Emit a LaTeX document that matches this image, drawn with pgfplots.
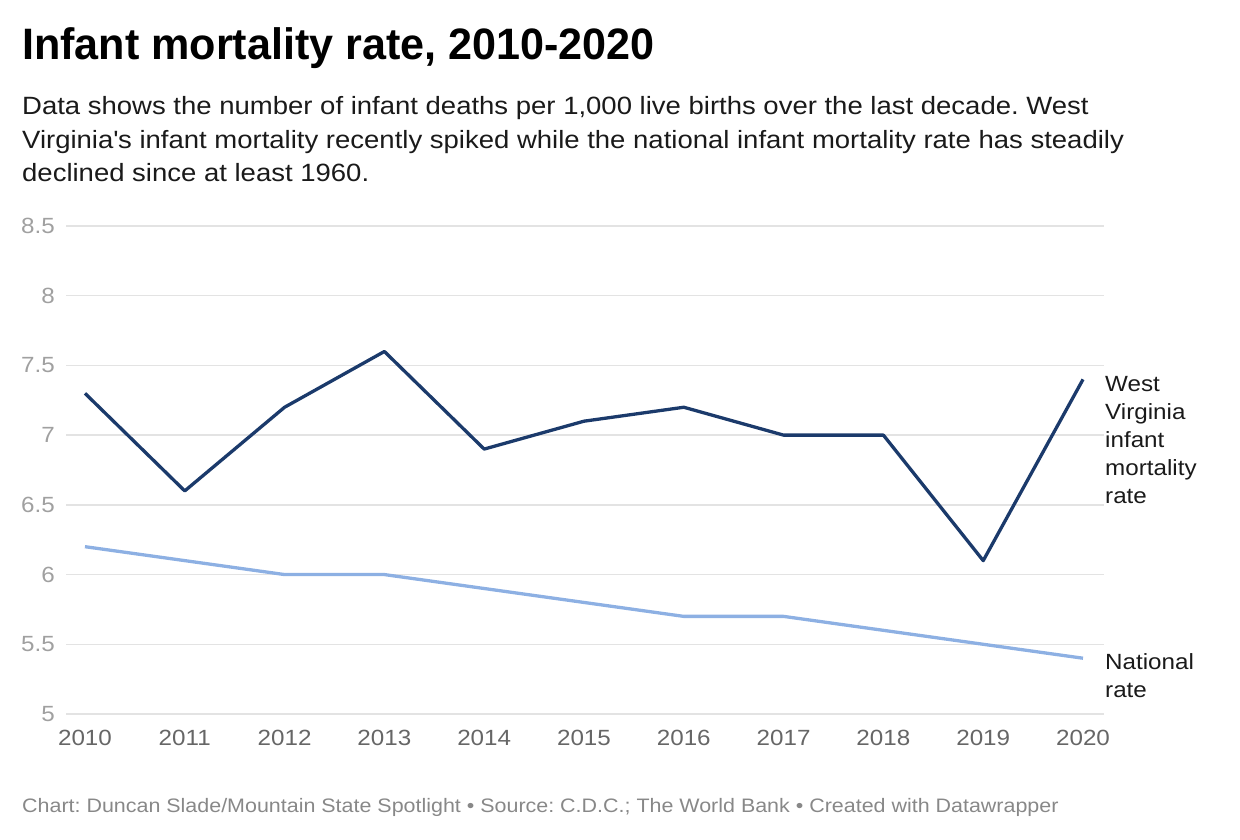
\documentclass[border=0pt]{standalone}
\usepackage{pgfplots}
\pgfplotsset{compat=1.18}
\usepackage{fontspec}
\setmainfont[FakeStretch=1.1]{Liberation Sans}
\newfontfamily\titlefont[FakeStretch=0.98]{Liberation Sans}

\definecolor{wvline}{HTML}{1B3A6B}
\definecolor{natline}{HTML}{8DB0E3}
\definecolor{gridc}{HTML}{E3E3E3}
\definecolor{ylab}{HTML}{A0A0A0}
\definecolor{xlab}{HTML}{666666}
\definecolor{foot}{HTML}{888888}
\definecolor{bodytxt}{HTML}{1A1A1A}

\begin{document}
\frenchspacing
\begin{tikzpicture}[x=1pt,y=1pt]
\useasboundingbox (0,0) rectangle (1240,840);

% title and description
\node[anchor=base west, inner sep=0pt] at (22,780)
  {\titlefont\fontsize{44}{50}\selectfont\bfseries Infant mortality rate, 2010-2020};
\begin{scope}[every node/.style={anchor=base west, inner sep=0pt, text=bodytxt, font=\fontsize{25}{30}\selectfont}]
\node at (22,725) {Data shows the number of infant deaths per 1,000 live births over the last decade. West};
\node at (22,691.5) {Virginia\textquotesingle s infant mortality recently spiked while the national infant mortality rate has steadily};
\node at (22,658) {declined since at least 1960.};
\end{scope}

\begin{axis}[
  at={(66pt,126pt)}, anchor=south west,
  scale only axis,
  width=1038pt, height=488pt,
  xmin=2009.81, xmax=2020.21,
  ymin=5, ymax=8.5,
  xtick={2010,2011,...,2020},
  ytick={5,5.5,...,8.5},
  axis line style={draw=none},
  tick style={draw=none},
  major tick length=0pt,
  ymajorgrids,
  grid style={color=gridc, line width=1.5pt},
  /pgf/number format/assume math mode=true,
  x tick label style={/pgf/number format/1000 sep={}, font=\fontsize{22}{26}\selectfont,
    text=xlab, inner sep=0pt, anchor=north, yshift=-16pt},
  y tick label style={font=\fontsize{22}{26}\selectfont, text=ylab, inner sep=0pt,
    anchor=east, xshift=-11pt},
  clip=false,
]
\addplot[natline, line width=3.3pt, line join=round] coordinates {
  (2010,6.2) (2011,6.1) (2012,6.0) (2013,6.0) (2014,5.9) (2015,5.8)
  (2016,5.7) (2017,5.7) (2018,5.6) (2019,5.5) (2020,5.4)};
\addplot[wvline, line width=3.3pt, line join=round] coordinates {
  (2010,7.3) (2011,6.6) (2012,7.2) (2013,7.6) (2014,6.9) (2015,7.1)
  (2016,7.2) (2017,7.0) (2018,7.0) (2019,6.1) (2020,7.4)};
\end{axis}

% line labels
\begin{scope}[every node/.style={anchor=base west, inner sep=0pt, text=bodytxt, font=\fontsize{22}{26}\selectfont}]
\node at (1105,448) {West};
\node at (1105,420) {Virginia};
\node at (1105,392) {infant};
\node at (1105,364) {mortality};
\node at (1105,336) {rate};
\node at (1105,170) {National};
\node at (1105,142) {rate};
\end{scope}

% footer
\node[anchor=base west, inner sep=0pt, text=foot, font=\fontsize{19.5}{24}\selectfont] at (22,27)
  {Chart: Duncan Slade/Mountain State Spotlight • Source: C.D.C.; The World Bank • Created with Datawrapper};
\end{tikzpicture}
\end{document}
